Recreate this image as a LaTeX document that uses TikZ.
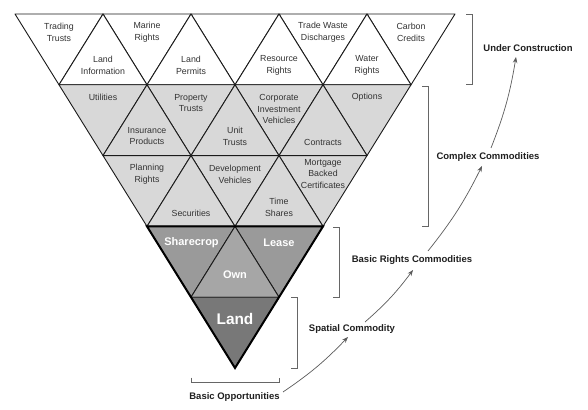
\documentclass[tikz,border=0pt]{standalone}
\usepackage{fontspec}
\setmainfont{Liberation Sans}
\usetikzlibrary{arrows.meta}
\definecolor{edge}{HTML}{1A1A1A}
\definecolor{lg}{HTML}{D8D8D8}
\definecolor{mg}{HTML}{9A9A9A}
\definecolor{mgb}{HTML}{A6A6A6}
\definecolor{dk}{HTML}{787878}
\definecolor{txt}{HTML}{333333}
\definecolor{brkc}{HTML}{666666}
\definecolor{arrc}{HTML}{5A5A5A}
\tikzset{
  cell/.style={draw=edge, line width=0.9pt, line join=round},
  lbl/.style={font=\fontsize{8.8}{11.8}\selectfont, text=txt, align=center, inner sep=0pt},
  wlbl/.style={font=\bfseries\fontsize{11}{13}\selectfont, text=white, inner sep=0pt},
  biglbl/.style={font=\bfseries\fontsize{15.4}{17}\selectfont, text=white, inner sep=0pt},
  cat/.style={font=\bfseries\fontsize{9.5}{11}\selectfont, text=black!88, inner sep=0pt},
  brk/.style={draw=brkc, line width=0.9pt},
  flow/.style={draw=arrc, line width=0.7pt, -{Stealth[length=6pt,width=4.5pt]}},
}
\begin{document}
\begin{tikzpicture}[x=1pt,y=-1pt]
\useasboundingbox (0,0) rectangle (588,409);
% triangle grid
\foreach \r/\dc/\uc in {0/white/white,1/lg/lg,2/lg/lg,3/mg/mgb,4/dk/dk}{
  \pgfmathtruncatemacro\nd{4-\r}
  \pgfmathtruncatemacro\nu{3-\r}
  \foreach \k in {0,...,\nd}
    \path[cell,fill=\dc] ({15+44*\r+88*\k},{14+70.8*\r}) -- ++(88,0) -- ++(-44,70.8) -- cycle;
  \ifnum\nu>-1
  \foreach \k in {0,...,\nu}
    \path[cell,fill=\uc] ({59+44*\r+88*\k},{84.8+70.8*\r}) -- ++(88,0) -- ++(-44,-70.8) -- cycle;
  \fi
}
% thick outline of the basic part
\draw[black, line width=2pt, line join=miter] (147,226.4) -- (323,226.4) -- (235,368) -- cycle;

% row 1 labels
\node[lbl] (tt) at (59,32) {Trading\\Trusts};
\node[lbl] (mr) at (147,32) {Marine\\Rights};
\node[lbl] (twd) at (323,32) {Trade Waste\\Discharges};
\node[lbl] (ccr) at (411,32) {Carbon\\Credits};
\node[lbl] (li) at (103,65) {Land\\Information};
\node[lbl] (lp) at (191,65) {Land\\Permits};
\node[lbl] (rr) at (279,65) {Resource\\Rights};
\node[lbl] (wr) at (367,65) {Water\\Rights};
% row 2 labels
\node[lbl] (ut) at (103,97) {Utilities};
\node[lbl] (pt) at (191,103) {Property\\Trusts};
\node[lbl] (civ) at (279,109) {Corporate\\Investment\\Vehicles};
\node[lbl] (op) at (367,97) {Options};
\node[lbl] (ip) at (147,136) {Insurance\\Products};
\node[lbl] (unt) at (235,136) {Unit\\Trusts};
\node[lbl] (ct) at (323,142) {Contracts};
% row 3 labels
\node[lbl] (pr) at (147,174) {Planning\\Rights};
\node[lbl] (dv) at (235,174) {Development\\Vehicles};
\node[lbl] (mbc) at (323,174) {Mortgage\\Backed\\Certificates};
\node[lbl] (se) at (191,213) {Securities};
\node[lbl] (ts) at (279,207) {Time\\Shares};
% row 4 and 5 labels
\node[wlbl] (shc) at (191.5,243) {Sharecrop};
\node[wlbl] (ls) at (279,243) {Lease};
\node[wlbl] (ow) at (235,275) {Own};
\node[biglbl] (ld) at (235,319) {Land};

% brackets
\draw[brk] (466,14.5) -- (472,14.5) -- (472,84) -- (466,84);
\draw[brk] (422,86) -- (428,86) -- (428,226) -- (422,226);
\draw[brk] (333,227) -- (339,227) -- (339,297) -- (333,297);
\draw[brk] (291,297.5) -- (297,297.5) -- (297,368) -- (291,368);
\draw[brk] (191,377.5) -- (191,382) -- (279,382) -- (279,377.5);

% category labels
\node[cat] (uc) at (528,48) {Under Construction};
\node[cat] (cc) at (488,157) {Complex Commodities};
\node[cat] (brc) at (412,260) {Basic Rights Commodities};
\node[cat] (spc) at (352,329) {Spatial Commodity};
\node[cat] (bo) at (234.5,397) {Basic Opportunities};

% flow arrows
\coordinate (a1s) at (283,392);
\coordinate (a1e) at (348,337);
\coordinate (a2s) at (365,322);
\coordinate (a2e) at (413,270);
\coordinate (a3s) at (428,251);
\coordinate (a3e) at (482,166);
\coordinate (a4s) at (491,148);
\coordinate (a4e) at (516,57);
\draw[flow] (a1s) to[bend right=6] (a1e);
\draw[flow] (a2s) to[bend right=6] (a2e);
\draw[flow] (a3s) to[bend right=6] (a3e);
\draw[flow] (a4s) to[bend right=6] (a4e);
\end{tikzpicture}
\end{document}
